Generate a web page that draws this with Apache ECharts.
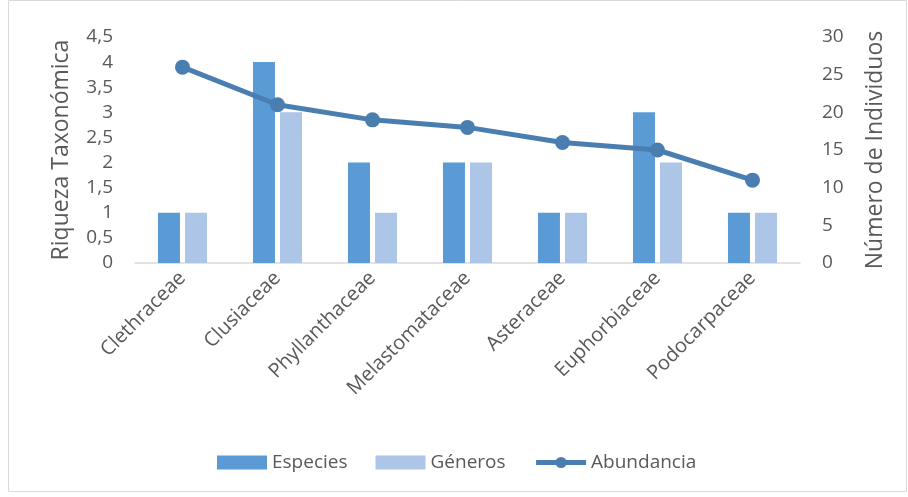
<!DOCTYPE html>
<html>
<head>
<meta charset="utf-8">
<script src="https://cdn.jsdelivr.net/npm/echarts@6/dist/echarts.min.js"></script>
<style>
html, body { margin: 0; padding: 0; background: #fff; }
#main { width: 908px; height: 497px; }
</style>
</head>
<body>
<div id="main"></div>
<script>
// datos
var familias = ['Clethraceae', 'Clusiaceae', 'Phyllanthaceae', 'Melastomataceae', 'Asteraceae', 'Euphorbiaceae', 'Podocarpaceae'];
var especies = [1, 4, 2, 2, 1, 3, 1];
var generos = [1, 3, 1, 2, 1, 2, 1];
var abundancia = [26, 21, 19, 18, 16, 15, 11];

var txt = '#595959';
var fuente = 'Open Sans';

var chart = echarts.init(document.getElementById('main'));
chart.setOption({
    animation: false,
    textStyle: { fontFamily: fuente },
    graphic: [{
        type: 'rect',
        shape: { x: 8.5, y: 0.5, width: 898, height: 491 },
        style: { fill: 'none', stroke: '#d9d9d9', lineWidth: 1 }
    }],
    grid: { left: 135, right: 108, top: 37, bottom: 234 },
    legend: {
        bottom: 20,
        left: 212,
        itemWidth: 50,
        itemHeight: 14,
        itemGap: 28,
        textStyle: { color: txt, fontSize: 19, fontFamily: fuente },
        data: [
            { name: 'Especies', icon: 'rect' },
            { name: 'Géneros', icon: 'rect' },
            { name: 'Abundancia', lineStyle: { width: 5 } }
        ]
    },
    xAxis: {
        type: 'category',
        data: familias,
        axisLine: { lineStyle: { color: '#d9d9d9', width: 1.5 } },
        axisTick: { show: false },
        axisLabel: { rotate: 45, color: txt, fontSize: 20, margin: 12, interval: 0 }
    },
    yAxis: [{
        type: 'value',
        min: 0, max: 4.5, interval: 0.5,
        name: 'Riqueza Taxonómica',
        nameLocation: 'middle',
        nameGap: 62,
        nameTextStyle: { color: txt, fontSize: 23 },
        axisLabel: {
            color: txt, fontSize: 19, margin: 22,
            formatter: function (v) { return String(v).replace('.', ','); }
        },
        splitLine: { show: false },
        axisLine: { show: false },
        axisTick: { show: false }
    }, {
        type: 'value',
        min: 0, max: 30, interval: 5,
        name: 'Número de Individuos',
        nameLocation: 'middle',
        nameGap: 64,
        nameRotate: 90,
        nameTextStyle: { color: txt, fontSize: 23 },
        axisLabel: { color: txt, fontSize: 19, margin: 22 },
        splitLine: { show: false },
        axisLine: { show: false },
        axisTick: { show: false }
    }],
    series: [{
        name: 'Especies',
        type: 'bar',
        data: especies,
        barWidth: 22,
        barGap: '23%',
        itemStyle: { color: '#5b9bd5' }
    }, {
        name: 'Géneros',
        type: 'bar',
        data: generos,
        barWidth: 22,
        itemStyle: { color: '#adc5e6' }
    }, {
        name: 'Abundancia',
        type: 'line',
        yAxisIndex: 1,
        data: abundancia,
        symbol: 'circle',
        symbolSize: 15,
        lineStyle: { color: '#4a7eb1', width: 5 },
        itemStyle: { color: '#4a7eb1' }
    }]
});
</script>
</body>
</html>
